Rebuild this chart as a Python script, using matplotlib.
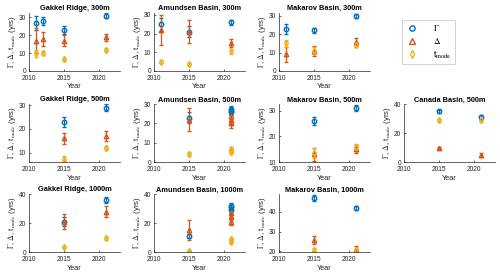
import matplotlib
matplotlib.use('Agg')
import matplotlib.pyplot as plt
from matplotlib.lines import Line2D

plt.rcParams['font.family'] = ['Liberation Sans', 'DejaVu Sans']
plt.rcParams['mathtext.fontset'] = 'stix'

# ---- data (values and symmetric error bars) ----
gak300_yr = [2011, 2012, 2015, 2021]
gak300_G = [27, 28, 23, 31];   gak300_Ge = [4, 2.3, 2, 1.5]
gak300_D = [17, 18, 17, 19];   gak300_De = [7, 4, 3, 2]
gak300_T = [10, 10, 6.5, 12];  gak300_Te = [2, 1, 1, 1]

amu300_yr = [2011, 2015, 2021]
amu300_G = [25, 21, 26];       amu300_Ge = [3.5, 3, 1.2]
amu300_D = [22, 21, 15];       amu300_De = [8, 6, 2]
amu300_T = [5, 3.5, 10.5];     amu300_Te = [1, 1, 1.5]

mak300_yr = [2011, 2015, 2021]
mak300_G = [23, 22, 30];       mak300_Ge = [2.7, 1.5, 1]
mak300_D = [9, 11, 16];        mak300_De = [4, 2.7, 2]
mak300_T = [15, 11, 14];       mak300_Te = [2, 2, 1]

gak500_yr = [2015, 2021]
gak500_G = [23, 29];           gak500_Ge = [2, 1.5]
gak500_D = [16, 17];           gak500_De = [2.5, 2.3]
gak500_T = [7.5, 12];          gak500_Te = [1, 1]

amu500_yr = [2015, 2021, 2021, 2021]
amu500_G = [23, 27.5, 26.5, 26];  amu500_Ge = [3, 1.5, 1.5, 1.5]
amu500_D = [22, 24, 22, 20];      amu500_De = [6, 2.5, 2.5, 2.5]
amu500_T = [4, 7, 6, 5];          amu500_Te = [1, 1, 1, 1]

mak500_yr = [2015, 2021]
mak500_G = [26, 31];           mak500_Ge = [1.7, 1.2]
mak500_D = [13, 15];           mak500_De = [2.5, 1.5]
mak500_T = [13.5, 16];         mak500_Te = [2, 1]

can500_yr = [2015, 2021]
can500_G = [35, 31];           can500_Ge = [1, 1.3]
can500_D = [9.5, 5];           can500_De = [0.8, 1.5]
can500_T = [29, 29];           can500_Te = [1, 1]

gak1000_yr = [2015, 2021]
gak1000_G = [21, 36];          gak1000_Ge = [3, 2]
gak1000_D = [21, 28];          gak1000_De = [5, 4]
gak1000_T = [3.5, 9.5];        gak1000_Te = [1, 1]

amu1000_yr = [2015, 2021, 2021, 2021]
amu1000_G = [11, 32, 31, 29];  amu1000_Ge = [1.5, 2, 2, 2]
amu1000_D = [15, 27, 24, 21];  amu1000_De = [7, 2.5, 2.5, 2.5]
amu1000_T = [1, 9, 8, 7];      amu1000_Te = [0.5, 1, 1, 1]

mak1000_yr = [2015, 2021]
mak1000_G = [47, 42];          mak1000_Ge = [1.5, 1.2]
mak1000_D = [26, 21.5];        mak1000_De = [2, 1.5]
mak1000_T = [21, 21];          mak1000_Te = [0.7, 1]

panels = [
    # title, row, col, data, ylim, yticks
    ('Gakkel Ridge, 300m', 0, 0, (gak300_yr, gak300_G, gak300_Ge, gak300_D, gak300_De, gak300_T, gak300_Te), (0, 32.5), [0, 10, 20, 30]),
    ('Amundsen Basin, 300m', 0, 1, (amu300_yr, amu300_G, amu300_Ge, amu300_D, amu300_De, amu300_T, amu300_Te), (0, 31), [0, 10, 20, 30]),
    ('Makarov Basin, 300m', 0, 2, (mak300_yr, mak300_G, mak300_Ge, mak300_D, mak300_De, mak300_T, mak300_Te), (0, 31.5), [0, 10, 20, 30]),
    ('Gakkel Ridge, 500m', 1, 0, (gak500_yr, gak500_G, gak500_Ge, gak500_D, gak500_De, gak500_T, gak500_Te), (6, 30.5), [10, 20, 30]),
    ('Amundsen Basin, 500m', 1, 1, (amu500_yr, amu500_G, amu500_Ge, amu500_D, amu500_De, amu500_T, amu500_Te), (0, 30), [0, 10, 20, 30]),
    ('Makarov Basin, 500m', 1, 2, (mak500_yr, mak500_G, mak500_Ge, mak500_D, mak500_De, mak500_T, mak500_Te), (10, 32.5), [10, 20, 30]),
    ('Canada Basin, 500m', 1, 3, (can500_yr, can500_G, can500_Ge, can500_D, can500_De, can500_T, can500_Te), (0, 40), [0, 20, 40]),
    ('Gakkel Ridge, 1000m', 2, 0, (gak1000_yr, gak1000_G, gak1000_Ge, gak1000_D, gak1000_De, gak1000_T, gak1000_Te), (0, 40), [0, 20, 40]),
    ('Amundsen Basin, 1000m', 2, 1, (amu1000_yr, amu1000_G, amu1000_Ge, amu1000_D, amu1000_De, amu1000_T, amu1000_Te), (0, 40), [0, 20, 40]),
    ('Makarov Basin, 1000m', 2, 2, (mak1000_yr, mak1000_G, mak1000_Ge, mak1000_D, mak1000_De, mak1000_T, mak1000_Te), (19.7, 49), [20, 30, 40]),
]

c_G = '#0072BD'
c_D = '#D95319'
c_T = '#EDB120'
axcol = '#262626'

fig = plt.figure(figsize=(5.0, 2.77), dpi=100)

lefts = [0.058, 0.308, 0.558, 0.808]
bottoms = [0.744, 0.415, 0.090]
w, h = 0.182, 0.209

for title, r, c, d, ylim, yt in panels:
    ax = fig.add_axes([lefts[c], bottoms[r], w, h])
    yr, G, Ge, D, De, T, Te = d
    kw = dict(linestyle='none', markersize=3.2, markeredgewidth=1.0, elinewidth=0.9,
              capsize=1.4, capthick=0.9, markerfacecolor='none')
    ax.errorbar(yr, G, yerr=Ge, marker='o', color=c_G, **kw)
    ax.errorbar(yr, D, yerr=De, marker='^', color=c_D, **kw)
    ax.errorbar(yr, T, yerr=Te, marker='d', color=c_T, **kw)
    ax.set_xlim(2010, 2023)
    ax.set_ylim(*ylim)
    ax.set_xticks([2010, 2015, 2020])
    ax.set_yticks(yt)
    for s in ['top', 'right']:
        ax.spines[s].set_visible(False)
    for s in ['left', 'bottom']:
        ax.spines[s].set_color(axcol)
        ax.spines[s].set_linewidth(0.5)
    ax.tick_params(direction='in', length=1.5, width=0.5, labelsize=4.8,
                   colors=axcol)
    ax.tick_params(axis='x', pad=3)
    ax.tick_params(axis='y', pad=2)
    ax.set_title(title, fontsize=5.3, fontweight='bold', pad=2)
    ax.set_xlabel('Year', fontsize=5.3, color=axcol, labelpad=1)
    ax.set_ylabel(r'$\Gamma$, $\Delta$, t$_{\mathrm{mode}}$ (yrs)', fontsize=5.6,
                  color=axcol, labelpad=0.5)

handles = [
    Line2D([], [], linestyle='none', marker='o', color=c_G, markerfacecolor='none', markersize=3.8, markeredgewidth=1),
    Line2D([], [], linestyle='none', marker='^', color=c_D, markerfacecolor='none', markersize=3.8, markeredgewidth=1),
    Line2D([], [], linestyle='none', marker='d', color=c_T, markerfacecolor='none', markersize=3.8, markeredgewidth=1),
]
labels = [r'$\Gamma$', r'$\Delta$', r't$_{\mathrm{mode}}$']
leg = fig.legend(handles, labels, loc='upper left', bbox_to_anchor=(0.804, 0.928),
                 fontsize=6.5, frameon=True, fancybox=False, edgecolor='#bfbfbf',
                 handlelength=1.5, handletextpad=1.6, borderpad=0.35, labelspacing=0.35,
                 borderaxespad=0)
leg.get_frame().set_linewidth(0.6)

fig.savefig('out.png', dpi=100)
